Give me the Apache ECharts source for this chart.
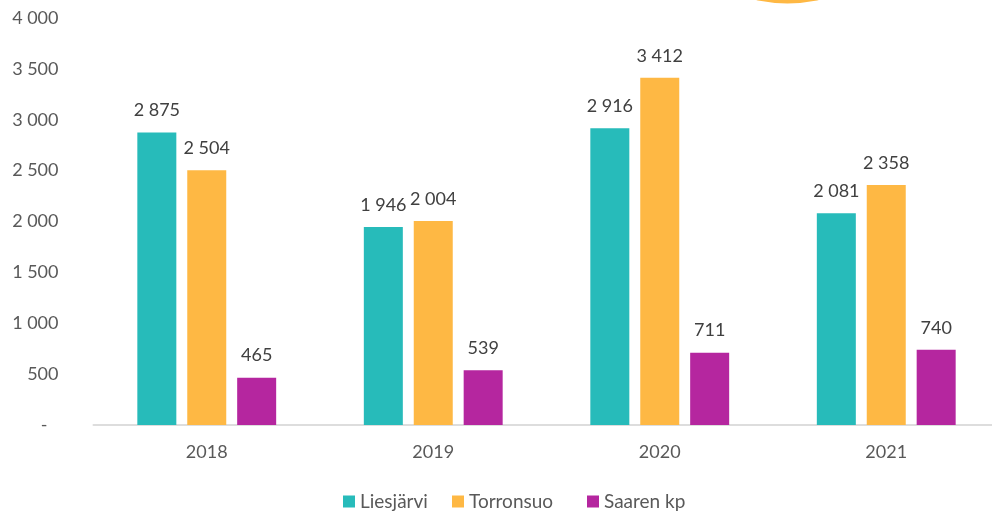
<!DOCTYPE html>
<html>
<head>
<meta charset="utf-8">
<script src="https://cdn.jsdelivr.net/npm/echarts@6/dist/echarts.min.js"></script>
<style>
html,body{margin:0;padding:0;background:#fff;}
#chart{width:992px;height:512px;}
</style>
</head>
<body>
<div id="chart"></div>
<script>
const categories = ['2018', '2019', '2020', '2021'];
const seriesNames = ['Liesjärvi', 'Torronsuo', 'Saaren kp'];
const liesjarvi = [2875, 1946, 2916, 2081];
const torronsuo = [2504, 2004, 3412, 2358];
const saarenKp = [465, 539, 711, 740];
const yTicks = [0, 500, 1000, 1500, 2000, 2500, 3000, 3500, 4000];

const colors = ['#27BBBA', '#FEB844', '#B5269F'];
const FONT = 'Lato, "Open Sans", sans-serif';

function fmt(v) {
  return String(v).replace(/\B(?=(\d{3})+(?!\d))/g, ' ');
}

const chart = echarts.init(document.getElementById('chart'), null, {renderer: 'canvas'});

const dataSets = [liesjarvi, torronsuo, saarenKp];
const legendLeft = [338, 447, 582];

chart.setOption({
  animation: false,
  color: colors,
  textStyle: {fontFamily: FONT},
  grid: {left: 93.5, width: 906, top: 18, height: 407, containLabel: false, outerBoundsMode: 'none'},
  legend: seriesNames.map(function (name, i) {
    return {
      data: [name],
      left: legendLeft[i],
      top: 487,
      itemWidth: 12,
      itemHeight: 12,
      icon: 'rect',
      textStyle: {fontFamily: FONT, fontSize: 19, color: '#595959'}
    };
  }),
  xAxis: {
    type: 'category',
    data: categories,
    axisLine: {lineStyle: {color: '#DDDDDD', width: 2}},
    axisTick: {show: false},
    axisLabel: {fontFamily: FONT, fontSize: 18, color: '#595959', margin: 18}
  },
  yAxis: {
    type: 'value',
    min: yTicks[0],
    max: yTicks[yTicks.length - 1],
    interval: 500,
    splitLine: {show: false},
    axisLine: {show: false},
    axisTick: {show: false},
    axisLabel: {
      fontFamily: FONT, fontSize: 18, color: '#595959', margin: 35,
      formatter: function (v) { return v === 0 ? '{d|-}' : fmt(v); },
      rich: {d: {fontFamily: FONT, fontSize: 18, color: '#595959', padding: [0, 11, 0, 0]}}
    }
  },
  graphic: [{
    type: 'circle',
    shape: {cx: 787.5, cy: -139, r: 142.5},
    style: {fill: '#FEB844'},
    silent: true
  }],
  series: seriesNames.map(function (name, i) {
    return {
      name: name,
      type: 'bar',
      data: dataSets[i],
      barWidth: 39,
      barGap: '28%',
      label: {
        show: true,
        position: 'top',
        distance: 13,
        fontFamily: FONT,
        fontSize: 18,
        color: '#404040',
        formatter: function (p) { return fmt(p.value); }
      }
    };
  })
});
</script>
</body>
</html>
